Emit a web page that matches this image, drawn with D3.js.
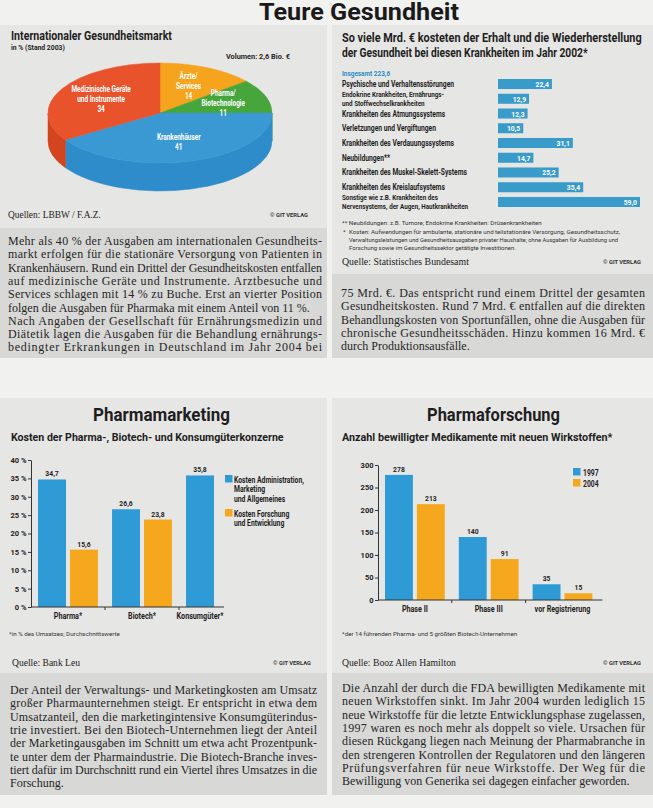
<!DOCTYPE html>
<html><head><meta charset="utf-8">
<script src="https://cdn.jsdelivr.net/npm/d3@7"></script>
<style>body{margin:0;background:#f1f1ef}svg{display:block}</style>
</head><body><svg id="c" width="653" height="808"></svg>
<script>
// ---------- DATA ----------
const pageTitle = "Teure Gesundheit";

const pieTitle = "Internationaler Gesundheitsmarkt";
const pieSub = "in % (Stand 2003)";
const pieVolume = "Volumen: 2,6 Bio. €";
const pieLabels = [["Ärzte/", "Services"], ["Pharma/", "Biotechnologie"], ["Krankenhäuser"], ["Medizinische Geräte", "und Instrumente"]];
const pieValues = [14, 11, 41, 34];
const pieSource = "Quellen: LBBW / F.A.Z.";

const disTitle = ["So viele Mrd. € kosteten der Erhalt und die Wiederherstellung", "der Gesundheit bei diesen Krankheiten im Jahr 2002*"];
const disTotal = "Insgesamt 223,6";
const disLabels = [["Psychische und Verhaltensstörungen"], ["Endokrine Krankheiten, Ernährungs-", "und Stoffwechselkrankheiten"], ["Krankheiten des Atmungssystems"], ["Verletzungen und Vergiftungen"], ["Krankheiten des Verdauungssystems"], ["Neubildungen**"], ["Krankheiten des Muskel-Skelett-Systems"], ["Krankheiten des Kreislaufsystems"], ["Sonstige wie z.B. Krankheiten des", "Nervensystems, der Augen, Hautkrankheiten"]];
const disValues = [22.4, 12.9, 12.3, 10.5, 31.1, 14.7, 25.2, 35.4, 59.0];
const disNotes = ["** Neubildungen: z.B. Tumore; Endokrine Krankheiten: Drüsenkrankheiten", "Kosten: Aufwendungen für ambulante, stationäre und teilstationäre Versorgung, Gesundheitsschutz,", "Verwaltungsleistungen und Gesundheitsausgaben privater Haushalte; ohne Ausgaben für Ausbildung und", "Forschung sowie im Gesundheitssektor getätigte Investitionen."];
const disSource = "Quelle: Statistisches Bundesamt";

const mktTitle = "Pharmamarketing";
const mktSub = "Kosten der Pharma-, Biotech- und Konsumgüterkonzerne";
const mktGroups = ["Pharma*", "Biotech*", "Konsumgüter*"];
const mktAdmin = [34.7, 26.6, 35.8];
const mktRD = [15.6, 23.8, null];
const mktSeries = [["Kosten Administration,", "Marketing", "und Allgemeines"], ["Kosten Forschung", "und Entwicklung"]];
const mktTicks = [0, 5, 10, 15, 20, 25, 30, 35, 40];
const mktNote = "*in % des Umsatzes; Durchschnittswerte";
const mktSource = "Quelle: Bank Leu";

const resTitle = "Pharmaforschung";
const resSub = "Anzahl bewilligter Medikamente mit neuen Wirkstoffen*";
const resGroups = ["Phase II", "Phase III", "vor Registrierung"];
const res1997 = [278, 140, 35];
const res2004 = [213, 91, 15];
const resSeries = ["1997", "2004"];
const resTicks = [0, 50, 100, 150, 200, 250, 300];
const resNote = "*der 14 führenden Pharma- und 5 größten Biotech-Unternehmen";
const resSource = "Quelle: Booz Allen Hamilton";

const copyright = "© GIT VERLAG";

const textTopLeft = [
"Mehr als 40 % der Ausgaben am internationalen Gesundheits-",
"markt erfolgen für die stationäre Versorgung von Patienten in",
"Krankenhäusern. Rund ein Drittel der Gesundheitskosten entfallen",
"auf medizinische Geräte und Instrumente. Arztbesuche und",
"Services schlagen mit 14 % zu Buche. Erst an vierter Position",
"folgen die Ausgaben für Pharmaka mit einem Anteil von 11 %.",
"Nach Angaben der Gesellschaft für Ernährungsmedizin und",
"Diätetik lagen die Ausgaben für die Behandlung ernährungs-",
"bedingter Erkrankungen in Deutschland im Jahr 2004 bei"];
const textTopRight = [
"75 Mrd. €. Das entspricht rund einem Drittel der gesamten",
"Gesundheitskosten. Rund 7 Mrd. € entfallen auf die direkten",
"Behandlungskosten von Sportunfällen, ohne die Ausgaben für",
"chronische Gesundheitsschäden. Hinzu kommen 16 Mrd. €",
"durch Produktionsausfälle."];
const textBottomLeft = [
"Der Anteil der Verwaltungs- und Marketingkosten am Umsatz",
"großer Pharmaunternehmen steigt. Er entspricht in etwa dem",
"Umsatzanteil, den die marketingintensive Konsumgüterindus-",
"trie investiert. Bei den Biotech-Unternehmen liegt der Anteil",
"der Marketingausgaben im Schnitt um etwa acht Prozentpunk-",
"te unter dem der Pharmaindustrie. Die Biotech-Branche inves-",
"tiert dafür im Durchschnitt rund ein Viertel ihres Umsatzes in die",
"Forschung."];
const textBottomRight = [
"Die Anzahl der durch die FDA bewilligten Medikamente mit",
"neuen Wirkstoffen sinkt. Im Jahr 2004 wurden lediglich 15",
"neue Wirkstoffe für die letzte Entwicklungsphase zugelassen,",
"1997 waren es noch mehr als doppelt so viele. Ursachen für",
"diesen Rückgang liegen nach Meinung der Pharmabranche in",
"den strengeren Kontrollen der Regulatoren und den längeren",
"Prüfungsverfahren für neue Wirkstoffe. Der Weg für die",
"Bewilligung von Generika sei dagegen einfacher geworden."];

// ---------- HELPERS ----------
const svg = d3.select("#c");
const SANS = "Roboto, 'Noto Sans', Arial, sans-serif";
const SERIF = "'Liberation Serif', 'Times New Roman', serif";
const SX = 0.78;
const BLUE = "#2f9bd6", ORANGE = "#f5a81e", INK = "#1e1e1e";
const fmtC = v => d3.format(".1f")(v).replace(".", ",");

// text helper: o.w => scale horizontally to that width (measured), else condense by sx.
// s may be an array of lines (rendered as tspans, spacing o.lh)
function T(g, x, y, s, o = {}) {
  const t = g.append("text")
    .attr("font-family", o.ff || SANS).attr("font-size", o.fs || 9)
    .attr("font-weight", o.fw || 700).attr("fill", o.fill || INK)
    .attr("text-anchor", o.anchor || "start");
  if (Array.isArray(s)) s.forEach((line, j) => t.append("tspan").attr("x", 0).attr("dy", j ? (o.lh || 10) : 0).text(line));
  else t.text(s);
  let sx = o.sx ?? SX;
  if (o.w) {
    const len = t.node().getComputedTextLength();
    if (len > 0) sx = o.w / len;
  }
  t.attr("transform", `translate(${x},${y}) scale(${sx},1)`);
  return t;
}
const LH = 13.3;
function para(g, x, y, w, lines, noJust) {
  lines.forEach((s, i) => {
    const t = g.append("text").attr("x", x).attr("y", y + i * LH).text(s)
      .attr("font-family", SERIF).attr("font-size", 12).attr("fill", "#262626");
    if (!noJust.includes(i)) t.attr("textLength", w).attr("lengthAdjust", "spacing");
  });
}
function rect(x, y, w, h, f) { svg.append("rect").attr("x", x).attr("y", y).attr("width", w).attr("height", h).attr("fill", f); }

// ---------- BACKGROUND ----------
rect(0, 0, 653, 808, "#f1f1ef");
rect(0, 25, 327, 333, "#e6e6e4");
rect(0, 228, 327, 130, "#d8d8d6");
rect(332, 25, 321, 333, "#e6e6e4");
rect(332, 274, 321, 84, "#d8d8d6");
rect(0, 398, 327, 397, "#e6e6e4");
rect(0, 673, 327, 122, "#d8d8d6");
rect(332, 398, 321, 397, "#e6e6e4");
rect(332, 673, 321, 122, "#d8d8d6");

T(svg, 359, 20, pageTitle, { fs: 23, w: 200, anchor: "middle", fill: "#1a1a1a" });

// ---------- PIE ----------
const gP = svg.append("g");
T(gP, 11, 40, pieTitle, { fs: 12.5, w: 161 });
T(gP, 11, 50, pieSub, { fs: 7, w: 54 });
T(gP, 226, 59, pieVolume, { fs: 8, w: 64 });
const cx = 160, cy = 113, rx = 112, ry = 50, depth = 28;
const pieTop = ["#f6a31e", "#46a63b", "#3a98d3", "#e9532c"];
const pieSideC = ["#dc8c14", "#378c2e", "#2f8ccb", "#d2451f"];
const arcs = d3.pie().sort(null).value(d => d)(pieValues);
const P = (a, dy = 0, f = 1) => [cx + f * rx * Math.sin(a), cy - f * ry * Math.cos(a) + dy];
arcs.forEach((d, i) => {
  const s0 = Math.max(d.startAngle, Math.PI / 2), s1 = Math.min(d.endAngle, 1.5 * Math.PI);
  if (s1 <= s0) return;
  gP.append("path").attr("d", `M${P(s0)}A${rx},${ry} 0 0 1 ${P(s1)}L${P(s1, depth)}A${rx},${ry} 0 0 0 ${P(s0, depth)}Z`)
    .attr("fill", pieSideC[i]).attr("stroke", pieSideC[i]).attr("stroke-width", 0.5);
});
arcs.forEach((d, i) => {
  gP.append("path").attr("d", `M${cx},${cy}L${P(d.startAngle)}A${rx},${ry} 0 ${d.endAngle - d.startAngle > Math.PI ? 1 : 0} 1 ${P(d.endAngle)}Z`)
    .attr("fill", pieTop[i]).attr("stroke", pieTop[i]).attr("stroke-width", 0.5);
});
arcs.forEach((d, i) => {
  const m = (d.startAngle + d.endAngle) / 2;
  const [lx, ly] = P(m, 0, 0.6);
  const lines = pieLabels[i].concat([String(pieValues[i])]);
  T(gP, lx, ly - (lines.length - 1) * 5 + 3, lines, { fs: 8.5, fill: "#fff", anchor: "middle", sx: 0.76, lh: 10 });
});
T(gP, 8, 218, pieSource, { ff: SERIF, fw: 400, fs: 10.5, w: 93, fill: "#222" });
T(gP, 270, 217, copyright, { fs: 6, w: 38, fill: "#333" });
para(svg, 8, 245, 314, textTopLeft, [5]);

// ---------- DISEASE BARS ----------
const gR = svg.append("g");
disTitle.forEach((s, i) => T(gR, 342, 42 + i * 14.5, s, { fs: 12, w: i ? 246 : 300 }));
T(gR, 342, 76, disTotal, { fs: 8, fill: "#2c8cc6", sx: 0.8 });
const yR = d3.scaleBand().domain(d3.range(disValues.length)).range([79, 207]).paddingInner(0.32);
const xR = d3.scaleLinear().domain([0, 60]).range([498, 642.4]);
const bw = yR.bandwidth();
disValues.forEach((v, i) => {
  gR.append("rect").attr("x", xR(0)).attr("y", yR(i)).attr("width", xR(v) - xR(0)).attr("height", bw).attr("fill", "#399bca");
  T(gR, xR(v) - 3, yR(i) + bw / 2 + 3, fmtC(v), { fs: 8, fill: "#fff", anchor: "end", sx: 0.85 });
  const c = yR(i) + bw / 2, L = disLabels[i];
  if (L.length === 1) T(gR, 342, c + 3, L[0], { fs: 8.5, sx: 0.79 });
  else T(gR, 342, c - 1.6, L, { fs: 7.4, sx: 0.85, lh: 8.8 });
});
T(gR, 342, 225, disNotes[0], { fs: 6.2, fw: 400, w: 200, fill: "#333" });
T(gR, 343, 234, "*", { fs: 6.2, fw: 400, fill: "#333", sx: 1 });
T(gR, 349, 234, disNotes[1], { fs: 6.2, fw: 400, w: 271, fill: "#333" });
T(gR, 349, 242, disNotes[2], { fs: 6.2, fw: 400, w: 269, fill: "#333" });
T(gR, 349, 250, disNotes[3], { fs: 6.2, fw: 400, w: 167, fill: "#333" });
T(gR, 342, 265, disSource, { ff: SERIF, fw: 400, fs: 10.5, w: 127, fill: "#222" });
T(gR, 603, 264, copyright, { fs: 6, w: 38, fill: "#333" });
para(svg, 341, 297, 304, textTopRight, [4]);

// ---------- GROUPED BAR HELPER ----------
function grouped(g, cfg) {
  const y = d3.scaleLinear().domain(cfg.yDomain).range(cfg.yRange);
  const x0 = d3.scaleBand().domain(cfg.groups).range(cfg.xRange);
  const x1 = d3.scaleBand().domain([0, 1]).range([0, x0.bandwidth()]).paddingInner(0.125).paddingOuter(0.22);
  const ax = g.append("g").attr("transform", `translate(${cfg.xRange[0]},0)`)
    .call(d3.axisLeft(y).tickValues(cfg.ticks).tickSize(3).tickSizeOuter(0).tickFormat(cfg.tickFmt));
  ax.select(".domain").attr("stroke", "#333");
  ax.selectAll(".tick line").attr("stroke", "#333");
  ax.selectAll(".tick text").attr("font-family", SANS).attr("font-weight", 700).attr("font-size", 7.5).attr("fill", "#222").attr("x", -4.5);
  const base = y(0);
  const series = [cfg.s1, cfg.s2], cols = [BLUE, ORANGE];
  let lastEnd = cfg.xRange[0];
  cfg.groups.forEach((gname, gi) => {
    const centers = [];
    series.forEach((s, si) => {
      const v = s[gi];
      if (v == null) return;
      const bx = x0(gname) + x1(si);
      centers.push(bx + x1.bandwidth() / 2);
      lastEnd = Math.max(lastEnd, bx + x1.bandwidth());
      g.append("rect").attr("x", bx).attr("y", y(v)).attr("width", x1.bandwidth()).attr("height", base - y(v)).attr("fill", cols[si]);
      T(g, bx + x1.bandwidth() / 2, y(v) - 3, cfg.fmt(v), { fs: 8, anchor: "middle", sx: 0.85 });
    });
    T(g, d3.mean(centers), cfg.labelY, gname, { fs: 9, anchor: "middle", sx: 0.8 });
    if (gi > 0) g.append("line").attr("x1", x0(gname)).attr("x2", x0(gname)).attr("y1", base).attr("y2", base + 3).attr("stroke", "#333");
  });
  g.append("line").attr("x1", cfg.xRange[0]).attr("x2", lastEnd + 10).attr("y1", base).attr("y2", base).attr("stroke", "#333").attr("stroke-width", 1.2);
}

// ---------- PHARMAMARKETING ----------
const gM = svg.append("g");
T(gM, 161.5, 421, mktTitle, { fs: 19, w: 137, anchor: "middle" });
T(gM, 11, 441, mktSub, { fs: 11.5, w: 273 });
grouped(gM, { groups: mktGroups, s1: mktAdmin, s2: mktRD, yDomain: [0, 40], yRange: [607, 460], xRange: [31, 253],
  ticks: mktTicks, tickFmt: d => d + " %", fmt: fmtC, labelY: 619 });
mktSeries.forEach((lines, si) => {
  const top = si ? 509 : 475;
  gM.append("rect").attr("x", 225).attr("y", top).attr("width", 7.5).attr("height", 7.5).attr("fill", si ? ORANGE : BLUE);
  T(gM, 234, top + 7.5, lines, { fs: 8.5, sx: 0.8, lh: 10 });
});
T(gM, 9, 636, mktNote, { fs: 6.2, fw: 400, w: 111, fill: "#333" });
T(gM, 12, 666, mktSource, { ff: SERIF, fw: 400, fs: 10.5, w: 68, fill: "#222" });
T(gM, 273, 665, copyright, { fs: 6, w: 38, fill: "#333" });
para(svg, 10, 694, 307, textBottomLeft, [7]);

// ---------- PHARMAFORSCHUNG ----------
const gF = svg.append("g");
T(gF, 493.5, 421, resTitle, { fs: 19, w: 133, anchor: "middle" });
T(gF, 342, 441, resSub, { fs: 11.5, w: 271 });
grouped(gF, { groups: resGroups, s1: res1997, s2: res2004, yDomain: [0, 300], yRange: [600, 465], xRange: [378, 599.4],
  ticks: resTicks, tickFmt: d => d, fmt: d => d, labelY: 612 });
resSeries.forEach((s, si) => {
  const top = si ? 479 : 468;
  gF.append("rect").attr("x", 573).attr("y", top).attr("width", 7.5).attr("height", 7.5).attr("fill", si ? ORANGE : BLUE);
  T(gF, 583, top + 7.5, s, { fs: 8.5, sx: 0.8 });
});
T(gF, 342, 636, resNote, { fs: 6.2, fw: 400, w: 175, fill: "#333" });
T(gF, 342, 666, resSource, { ff: SERIF, fw: 400, fs: 10.5, w: 114, fill: "#222" });
T(gF, 603, 665, copyright, { fs: 6, w: 38, fill: "#333" });
para(svg, 342, 692, 303, textBottomRight, [7]);
</script></body></html>
